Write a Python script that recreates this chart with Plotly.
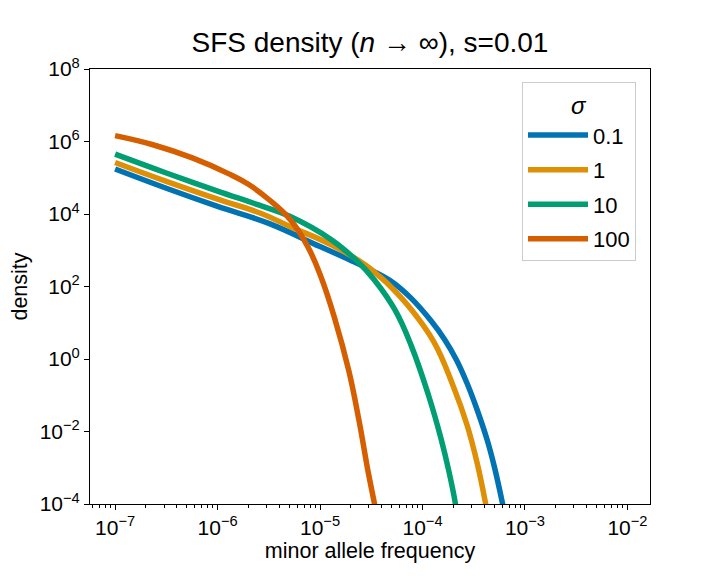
import plotly.graph_objects as go

# ---- values (log-log plot) ----
sigma_labels = ["0.1", "1", "10", "100"]
colors = ["#0173b2", "#de8f05", "#029e73", "#d55e00"]

freq_01 = [1.0e-7, 3.16e-7, 1.0e-6, 3.16e-6, 1.0e-5, 2.0e-5, 3.16e-5, 4.79e-5, 7.59e-5,
           1.20e-4, 1.66e-4, 2.14e-4, 2.72e-4, 3.39e-4, 4.27e-4, 5.01e-4, 6.03e-4, 6.46e-4]
dens_01 = [1.74e5, 5.13e4, 1.62e4, 5.50e3, 1.26e3, 525, 282, 148, 50.1,
           11.7, 3.31, 0.955, 0.214, 0.0417, 5.89e-3, 1.10e-3, 1.05e-4, 3.98e-5]

freq_1 = [1.0e-7, 3.16e-7, 1.0e-6, 2.63e-6, 5.13e-6, 1.29e-5, 2.75e-5, 3.80e-5, 4.79e-5,
          7.59e-5, 1.29e-4, 2.00e-4, 2.72e-4, 3.42e-4, 4.12e-4, 4.37e-4]
dens_1 = [2.63e5, 7.94e4, 2.57e4, 1.05e4, 4.47e3, 1.41e3, 398, 190, 105,
          25.1, 2.95, 0.174, 0.0151, 1.32e-3, 1.05e-4, 3.98e-5]

freq_10 = [1.0e-7, 3.16e-7, 1.0e-6, 2.51e-6, 5.13e-6, 1.29e-5, 2.34e-5, 3.39e-5, 5.37e-5,
           7.76e-5, 1.15e-4, 1.51e-4, 1.82e-4, 2.09e-4, 2.16e-4]
dens_10 = [4.47e5, 1.35e5, 4.27e4, 1.78e4, 8.51e3, 1.95e3, 479, 151, 22.9,
           2.34, 0.0955, 6.61e-3, 7.41e-4, 1.05e-4, 5.01e-5]

freq_100 = [1.0e-7, 2.34e-7, 5.75e-7, 1.26e-6, 2.0e-6, 3.16e-6, 5.13e-6, 7.59e-6, 1.02e-5,
            1.38e-5, 1.91e-5, 2.40e-5, 2.95e-5, 3.39e-5, 3.55e-5]
dens_100 = [1.45e6, 8.13e5, 3.47e5, 1.32e5, 6.61e4, 2.51e4, 6.92e3, 1.26e3, 186,
            14.1, 0.468, 0.0200, 7.59e-4, 1.05e-4, 5.01e-5]

x_ticks = [1e-7, 1e-6, 1e-5, 1e-4, 1e-3, 1e-2]
x_ticktext = ["10<sup>−7</sup>", "10<sup>−6</sup>", "10<sup>−5</sup>",
              "10<sup>−4</sup>", "10<sup>−3</sup>", "10<sup>−2</sup>"]
y_ticks = [1e-4, 1e-2, 1e0, 1e2, 1e4, 1e6, 1e8]
y_ticktext = ["10<sup>−4</sup>", "10<sup>−2</sup>", "10<sup>0</sup>", "10<sup>2</sup>",
              "10<sup>4</sup>", "10<sup>6</sup>", "10<sup>8</sup>"]

series = [(freq_01, dens_01), (freq_1, dens_1), (freq_10, dens_10), (freq_100, dens_100)]

font = "Liberation Sans, Arial, Helvetica, sans-serif"

fig = go.Figure()
for i, (xs, ys) in enumerate(series):
    fig.add_trace(go.Scatter(
        x=xs, y=ys, mode="lines", name=sigma_labels[i],
        legendgroup=sigma_labels[i],
        line=dict(color=colors[i], width=5.5, shape="spline", smoothing=1.2),
    ))

axis_common = dict(
    type="log", showgrid=False, zeroline=False, automargin=False,
    showline=True, mirror=True, linecolor="black", linewidth=1.1,
    ticks="outside", ticklen=5, tickwidth=1.1, tickcolor="black",
    tickfont=dict(size=21, color="black"),
)

fig.update_xaxes(
    **axis_common, range=[-7.245, -1.78], tickvals=x_ticks, ticktext=x_ticktext,
    minor=dict(ticks="outside", ticklen=3, tickwidth=0.8, tickcolor="black", dtick="D1"),
    title=dict(text="minor allele frequency", font=dict(size=21.5, color="black"), standoff=4),
)
fig.update_yaxes(
    **axis_common, range=[-4, 8], tickvals=y_ticks, ticktext=y_ticktext,
    title=dict(text="density", font=dict(size=21.5, color="black"), standoff=12),
)

# page body adds an 8px offset, so margins are shifted to land the axes where the reference has them
fig.update_layout(
    width=720, height=576,
    margin=dict(l=82, r=78, t=61, b=80),
    paper_bgcolor="white", plot_bgcolor="white",
    font=dict(family=font, color="black"),
    title=dict(text="SFS density (<i>n</i> → ∞), s=0.01", font=dict(size=28, color="black"),
               x=0.5, xref="paper", xanchor="center", y=0.94, yref="container", yanchor="middle"),
    legend=dict(
        x=0.975, y=0.97, xanchor="right", yanchor="top",
        bgcolor="rgba(255,255,255,0.8)", bordercolor="#cccccc", borderwidth=1,
        font=dict(size=22, color="black"), tracegroupgap=3, itemwidth=60,
        title=dict(text="<i>σ</i>", side="top center", font=dict(size=24)),
    ),
    showlegend=True,
)

fig.write_html("out.html")
